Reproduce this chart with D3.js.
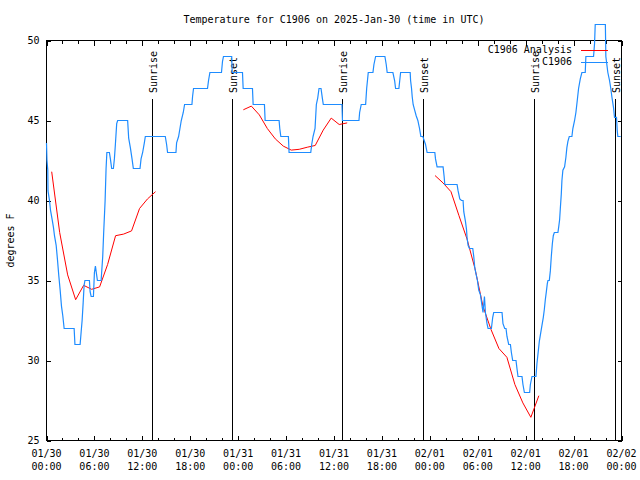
<!DOCTYPE html>
<html><head><meta charset="utf-8">
<script src="https://cdn.jsdelivr.net/npm/d3@7"></script>
<style>
body{margin:0;background:#fff}
svg text{font-family:"DejaVu Sans Mono","Liberation Mono",monospace;font-size:10px;fill:#000}
</style>
</head><body>
<svg id="chart" width="640" height="480"></svg>
<script>
// ---------- data ----------
const startUTC = Date.UTC(2025, 0, 30, 0, 0);          // 2025-01-30 00:00 UTC
const titleText = "Temperature for C1906 on 2025-Jan-30 (time in UTC)";
const yLabelText = "degrees F";
const seriesNames = ["C1906 Analysis", "C1906"];
const seriesColors = ["#ff0000", "#1e8cff"];
const yTickValues = [25, 30, 35, 40, 45, 50];
const xMajorHours = [0, 6, 12, 18, 24, 30, 36, 42, 48, 54, 60, 66, 72];
const xTickDates = ["01/30","01/30","01/30","01/30","01/31","01/31","01/31","01/31","02/01","02/01","02/01","02/01","02/02"];
const xTickTimes = ["00:00","06:00","12:00","18:00","00:00","06:00","12:00","18:00","00:00","06:00","12:00","18:00","00:00"];

// sunrise / sunset (hours after start)
const sunLabels = ["Sunrise","Sunset","Sunrise","Sunset","Sunrise","Sunset"];
const sunHours  = [13.15, 23.17, 37.05, 47.17, 61.05, 71.2];

// Analysis (red) - hourly, null = gap
const analysisHours = [
  0.65,1.65,2.65,3.65,4.65,5.65,6.65,7.65,8.65,9.65,10.65,11.65,12.65,13.65, 18,
  24.65,25.65,26.65,27.65,28.65,29.65,30.65,31.65,32.65,33.65,34.65,35.65,36.65,37.65, 42,
  48.65,49.65,50.65,51.65,52.65,53.65,54.65,55.65,56.65,57.65,58.65,59.65,60.65,61.65];
const analysisTemps = [
  41.8,38.0,35.35,33.8,34.7,34.45,34.6,36.0,37.8,37.9,38.1,39.5,40.1,40.55, null,
  45.67,45.9,45.35,44.5,43.85,43.4,43.15,43.2,43.33,43.44,44.4,45.15,44.75,44.85, null,
  41.56,41.1,40.55,39.05,37.6,35.75,33.4,31.95,30.75,30.2,28.5,27.35,26.45,27.8];

// Observations (blue)
const obsHours = [
  0,0.06,0.16,0.19,0.375,0.5,0.71,0.875,1.0,1.21,1.375,1.54,1.71,1.875,2.04,2.21,
  3.46,3.56,4.21,4.34,4.46,4.59,4.71,4.81,5.375,5.46,5.59,5.875,6.0,6.125,6.29,6.375,
  6.84,7.04,7.16,7.34,7.46,7.56,7.875,8.0,8.16,8.375,8.5,8.625,8.79,8.91,
  10.16,10.29,10.5,10.71,10.875,11.71,11.84,12.04,12.25,12.375,14.875,15.04,15.16,
  16.21,16.29,16.54,16.71,16.875,17.125,17.29,18.21,18.29,18.41,20.16,20.29,20.46,
  21.91,22.04,22.16,23.19,23.25,24.54,24.625,25.79,25.875,27.29,27.375,29.125,29.21,29.34,
  30.29,30.375,33.09,33.21,33.375,33.625,33.79,33.96,34.125,34.375,34.54,34.66,
  37.0,37.06,39.125,39.21,39.41,39.96,40.09,40.29,40.875,41.0,41.21,42.375,42.54,42.66,
  43.375,43.59,43.71,44.125,44.34,45.54,45.59,45.71,45.79,45.91,46.125,46.29,46.5,46.71,46.875,
  47.125,47.46,47.66,48.625,48.71,48.91,49.66,49.79,49.875,51.41,51.54,51.75,51.96,52.16,
  52.25,52.46,52.59,52.66,52.79,52.96,53.375,53.5,53.625,53.79,53.96,54.125,54.34,54.54,54.66,
  54.84,54.96,55.16,55.29,55.71,55.875,56.0,57.04,57.16,57.375,57.54,57.66,57.875,58.09,58.21,
  58.375,58.79,58.91,59.04,59.54,59.66,59.84,60.5,60.59,60.79,61.29,61.41,61.54,61.71,61.875,
  62.04,62.21,62.34,62.46,62.59,62.71,62.79,62.96,63.09,63.21,63.34,63.46,63.59,64.04,64.125,
  64.25,64.34,64.46,64.54,64.66,64.875,65.04,65.16,65.29,65.46,65.79,65.91,66.125,66.29,66.46,
  66.625,66.84,67.04,67.46,67.54,68.5,68.625,68.71,69.98,70.04,70.29,70.5,70.66,70.79,71.0,
  71.125,71.375,71.46,71.54,71.9];
const obsTemps = [
  43.6,42.5,41.9,40.6,40.0,39.4,38.8,38.3,37.8,37.2,36.3,35.3,34.4,33.4,32.8,32.0,
  32.0,31.0,31.0,31.8,32.5,33.6,34.7,35.0,35.0,34.3,34.0,34.0,35.5,35.9,35.3,35.0,
  35.0,36.5,38.0,40.0,42.0,43.0,43.0,42.6,42.0,42.0,42.6,43.5,44.8,45.0,
  45.0,43.9,43.3,42.6,42.0,42.0,42.6,43.0,43.6,44.0,44.0,43.5,43.0,
  43.0,43.6,44.0,44.5,45.0,45.5,46.0,46.0,46.5,47.0,47.0,47.5,48.0,
  48.0,48.7,49.0,49.0,48.0,48.0,47.0,47.0,46.0,46.0,45.0,45.0,44.5,44.0,
  44.0,43.0,43.0,43.5,44.0,44.5,46.0,46.4,47.0,47.0,46.4,46.0,
  46.0,45.0,45.0,45.5,46.0,46.0,47.0,48.0,48.0,48.5,49.0,49.0,48.5,48.0,
  48.0,47.5,47.0,47.0,48.0,48.0,47.5,47.0,46.5,46.0,45.6,45.3,45.0,44.5,44.0,
  44.0,43.5,43.0,43.0,42.6,42.1,42.1,41.5,41.0,41.0,40.6,40.1,40.0,40.0,
  39.3,38.7,38.2,37.7,37.2,37.0,37.0,36.5,35.8,35.4,35.0,34.4,34.1,33.4,33.0,
  34.0,33.0,32.3,32.0,32.0,32.7,33.0,33.0,32.3,32.0,32.0,31.5,31.0,31.0,30.5,
  30.0,30.0,29.5,29.0,29.0,28.5,28.0,28.0,28.5,29.0,29.0,29.8,30.4,31.2,31.7,
  32.2,32.7,33.2,33.8,34.3,34.8,35.0,35.0,35.6,36.5,37.3,37.8,38.0,38.0,38.3,
  38.8,39.5,40.4,41.25,41.9,42.1,42.7,43.3,43.7,44.0,44.0,44.5,45.0,45.5,46.25,
  47.0,47.6,48.0,48.0,49.0,49.0,49.8,51.0,51.0,49.0,48.0,47.5,47.0,46.5,45.8,
  45.2,45.2,44.4,44.0,44.0];

// ---------- chart ----------
const HOUR_MS = 3600 * 1000;
const toDate = h => new Date(startUTC + h * HOUR_MS);
const svg = d3.select("#chart");
const pLeft = 46.5, pRight = 621.5, pTop = 40.5, pBottom = 440.5;

const x = d3.scaleUtc().domain([toDate(0), toDate(72)]).range([pLeft, pRight]);
const y = d3.scaleLinear().domain([25, 50]).range([pBottom, pTop]);

// title
svg.append("text").attr("x", (pLeft + pRight) / 2).attr("y", 23)
  .attr("text-anchor", "middle").text(titleText);

// y label
svg.append("text").attr("transform", `translate(14,${(pTop + pBottom) / 2}) rotate(-90)`)
  .attr("text-anchor", "middle").text(yLabelText);

// axes
const minorDates = d3.range(0, 73, 2).filter(h => h % 6 !== 0).map(toDate);
const majorDates = xMajorHours.map(toDate);

function styleAxis(g) {
  g.select(".domain").remove();
  g.selectAll("line").attr("stroke", "#000").attr("shape-rendering", "crispEdges");
}
svg.append("g").attr("transform", `translate(0,${pBottom})`)
  .call(d3.axisBottom(x).tickValues(minorDates).tickSize(-3).tickFormat("")).call(styleAxis);
svg.append("g").attr("transform", `translate(0,${pBottom})`)
  .call(d3.axisBottom(x).tickValues(majorDates).tickSize(-5).tickFormat("")).call(styleAxis);
svg.append("g").attr("transform", `translate(0,${pTop})`)
  .call(d3.axisTop(x).tickValues(minorDates).tickSize(-3).tickFormat("")).call(styleAxis);
svg.append("g").attr("transform", `translate(0,${pTop})`)
  .call(d3.axisTop(x).tickValues(majorDates).tickSize(-5).tickFormat("")).call(styleAxis);

const yl = svg.append("g").attr("transform", `translate(${pLeft},0)`)
  .call(d3.axisLeft(y).tickValues(yTickValues).tickSize(-4).tickPadding(7).tickFormat(d3.format("d")))
  .call(styleAxis);
yl.attr("font-family", null).attr("font-size", null);
yl.selectAll("text").attr("fill", "#000");
svg.append("g").attr("transform", `translate(${pRight},0)`)
  .call(d3.axisRight(y).tickValues(yTickValues).tickSize(-4).tickFormat("")).call(styleAxis);

// x tick labels (two lines)
const xl = svg.append("g");
xMajorHours.forEach((h, i) => {
  const t = xl.append("text").attr("x", x(toDate(h))).attr("text-anchor", "middle");
  t.append("tspan").attr("x", x(toDate(h))).attr("y", 457).text(xTickDates[i]);
  t.append("tspan").attr("x", x(toDate(h))).attr("y", 470).text(xTickTimes[i]);
});

// frame
svg.append("rect").attr("x", pLeft).attr("y", pTop).attr("width", pRight - pLeft).attr("height", pBottom - pTop)
  .attr("fill", "none").attr("stroke", "#000").attr("shape-rendering", "crispEdges");

// sunrise / sunset markers
sunHours.forEach((h, i) => {
  const sx = Math.round(x(toDate(h))) + 0.5;
  svg.append("line").attr("x1", sx).attr("x2", sx).attr("y1", 99).attr("y2", pBottom)
    .attr("stroke", "#000").attr("shape-rendering", "crispEdges");
  svg.append("text").attr("transform", `translate(${sx + 1},93) rotate(-90)`)
    .attr("dominant-baseline", "middle").attr("text-anchor", "start").text(sunLabels[i]);
});

// series
const analysis = analysisHours.map((h, i) => ({ t: toDate(h), v: analysisTemps[i] }));
const obs = obsHours.map((h, i) => ({ t: toDate(h), v: obsTemps[i] }));
const line = d3.line().defined(d => d.v != null).x(d => x(d.t)).y(d => y(d.v));

svg.append("path").datum(analysis).attr("d", line)
  .attr("fill", "none").attr("stroke", seriesColors[0]).attr("stroke-width", 1);
svg.append("path").datum(obs).attr("d", line)
  .attr("fill", "none").attr("stroke", seriesColors[1]).attr("stroke-width", 1.2);

// legend
seriesNames.forEach((name, i) => {
  const ly = 50 + i * 12;
  svg.append("text").attr("x", 572).attr("y", ly).attr("text-anchor", "end")
    .attr("dominant-baseline", "middle").text(name);
  svg.append("line").attr("x1", 581).attr("x2", 608).attr("y1", ly + 0.5).attr("y2", ly + 0.5)
    .attr("stroke", seriesColors[i]).attr("stroke-width", 1);
});
</script>
</body></html>
